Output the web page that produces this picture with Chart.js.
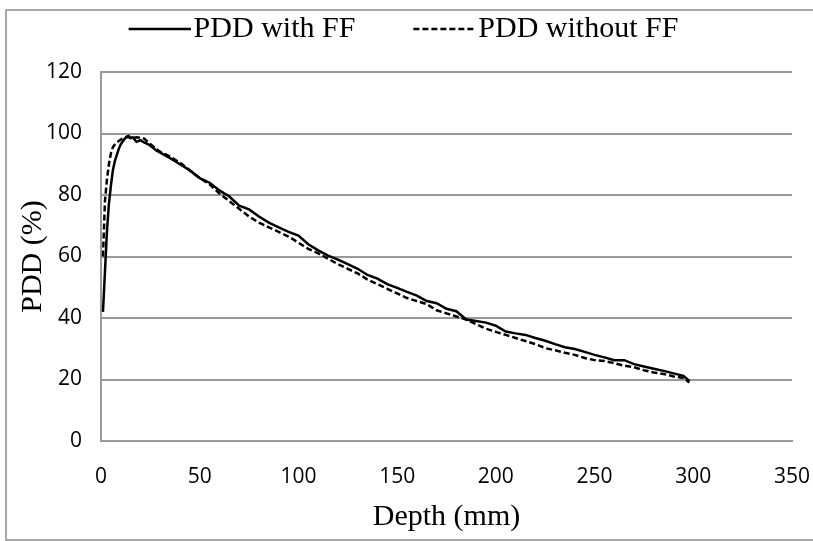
<!DOCTYPE html>
<html>
<head>
<meta charset="utf-8">
<script src="https://cdn.jsdelivr.net/npm/chart.js@4.4.1/dist/chart.umd.min.js"></script>
<style>
  html, body { margin: 0; padding: 0; background: #fff; }
</style>
</head>
<body>
<canvas id="chart-area" width="813" height="541"></canvas>
<script>
// depth in mm
var depth = [1, 2, 3, 4, 5, 6, 7, 8, 9, 10, 12, 13, 14, 15, 16, 18, 20, 22, 24, 26, 28, 30,
    35, 40, 45, 50, 55, 60, 65, 70, 75, 80, 85, 90, 95, 100, 105, 110, 115, 120, 125, 130,
    135, 140, 145, 150, 155, 160, 165, 170, 175, 180, 185, 190, 195, 200, 205, 210, 215,
    220, 225, 230, 235, 240, 245, 250, 255, 260, 265, 270, 275, 280, 285, 290, 295, 298];

var pddWithFF = [42, 55, 68, 77, 83, 88, 91, 93, 95, 96.5, 98.3, 99, 99.2, 98.5, 98.8, 97.3, 97.8, 97, 96.5, 95.5, 94.5, 93.8,
    92, 90, 88, 85.5, 84, 81.5, 79.5, 76.5, 75.3, 73, 71, 69.5, 68, 66.8, 64, 62, 60.3, 59, 57.5, 56,
    54, 52.8, 51, 49.8, 48.5, 47.3, 45.5, 44.8, 43, 42.2, 39.5, 39, 38.5, 37.5, 35.6, 35, 34.5,
    33.5, 32.6, 31.5, 30.5, 29.9, 29, 28, 27.2, 26.3, 26.3, 25, 24.2, 23.5, 22.8, 22, 21.2, 19.5];

var pddWithoutFF = [60, 78, 85, 90, 93.5, 95.5, 96.4, 97, 97.6, 98, 98.7, 98.8, 98.8, 98.6, 98.5, 98.8, 98.6, 98.3, 97, 96, 95, 94,
    92.5, 90.5, 88, 85.5, 83.5, 80.5, 78, 75.5, 73, 71, 69.5, 68, 66.5, 64.5, 62.5, 61, 59.3, 57.5, 56, 54.5,
    52.5, 51, 49.5, 48, 46.5, 45.5, 44.5, 42.5, 41.5, 40.5, 39.5, 38, 36.5, 35.5, 34.5, 33.5, 32.5,
    31.5, 30.2, 29.5, 28.7, 28, 27, 26.3, 26, 25.3, 24.5, 24, 23, 22.3, 21.8, 21, 20.5, 19];

var seriesNames = ["PDD with FF", "PDD without FF"];
var xTicks = [0, 350, 50];
var yTicks = [0, 120, 20];

function points(vals) {
    return depth.map(function (d, i) { return { x: d, y: vals[i] }; });
}

var serif = "'Liberation Serif', 'Times New Roman', serif";
var sans = "'Open Sans', sans-serif";
var gridGray = "#999999";

// legend sample: 62px line sitting close to its text
function legendLine(dash) {
    var c = document.createElement("canvas");
    c.width = 74;
    c.height = 6;
    var g = c.getContext("2d");
    g.strokeStyle = "#000";
    g.lineWidth = 2.5;
    g.setLineDash(dash);
    g.beginPath();
    g.moveTo(12, 3);
    g.lineTo(74, 3);
    g.stroke();
    return c;
}

// white page with the grey frame round it
var framePlugin = {
    id: "frame",
    beforeDraw: function (chart) {
        var c = chart.ctx;
        c.save();
        c.fillStyle = "#fff";
        c.fillRect(0, 0, chart.width, chart.height);
        c.strokeStyle = "#8c8c8c";
        c.lineWidth = 1.5;
        c.strokeRect(6, 10, chart.width, chart.height - 11);
        c.restore();
    }
};

// extra room under the legend, and nudge it a little
var legendTweak = {
    id: "legendTweak",
    beforeLayout: function (chart) {
        var lg = chart.legend;
        if (lg && !lg.tweaked) {
            var fit = lg.fit;
            lg.fit = function () { fit.call(this); this.height += 18; };
            var draw = lg.draw;
            lg.draw = function () {
                chart.ctx.save();
                chart.ctx.translate(-8, 0);
                draw.call(this);
                chart.ctx.restore();
            };
            lg.tweaked = true;
        }
    }
};

var ctx = document.getElementById("chart-area");

var myChart = new Chart(ctx, {
    type: "line",
    data: {
        datasets: [
            {
                label: seriesNames[0],
                data: points(pddWithFF),
                borderColor: "#000",
                backgroundColor: "#000",
                borderWidth: 2.5,
                pointRadius: 0,
                tension: 0
            },
            {
                label: seriesNames[1],
                data: points(pddWithoutFF),
                borderColor: "#000",
                backgroundColor: "#000",
                borderWidth: 2.5,
                borderDash: [6, 3],
                pointRadius: 0,
                tension: 0
            }
        ]
    },
    options: {
        responsive: false,
        animation: false,
        layout: { padding: { left: 10, right: 0, top: -44, bottom: 6 } },
        plugins: {
            legend: {
                position: "top",
                labels: {
                    color: "#000",
                    font: { family: serif, size: 30 },
                    usePointStyle: true,
                    pointStyleWidth: 50,
                    boxHeight: 6,
                    padding: 58,
                    generateLabels: function (chart) {
                        var items = Chart.defaults.plugins.legend.labels.generateLabels(chart);
                        items.forEach(function (it, i) {
                            it.pointStyle = legendLine(chart.data.datasets[i].borderDash || []);
                        });
                        return items;
                    }
                }
            },
            tooltip: { enabled: false }
        },
        scales: {
            x: {
                type: "linear",
                min: xTicks[0],
                max: xTicks[1],
                afterFit: function (scale) {
                    scale.height = 94;
                    scale.paddingRight = 21;
                    scale.paddingLeft = 0;
                },
                ticks: { stepSize: xTicks[2], color: "#000", font: { family: sans, size: 21 }, padding: 23, maxRotation: 0 },
                grid: { display: false, drawTicks: false },
                border: { display: true, color: gridGray, width: 2 },
                title: { display: true, text: "Depth (mm)", color: "#000", font: { family: serif, size: 30 }, padding: { top: 0, bottom: 0 } }
            },
            y: {
                min: yTicks[0],
                max: yTicks[1],
                afterFit: function (scale) { scale.width = 91; },
                ticks: { stepSize: yTicks[2], color: "#000", font: { family: sans, size: 21 }, padding: 19 },
                grid: { color: gridGray, lineWidth: 2, drawTicks: false },
                border: { display: true, color: gridGray, width: 2 },
                title: { display: true, text: "PDD (%)", color: "#000", font: { family: serif, size: 30 }, padding: { top: 5, bottom: 0 } }
            }
        }
    },
    plugins: [framePlugin, legendTweak]
});
</script>
</body>
</html>
